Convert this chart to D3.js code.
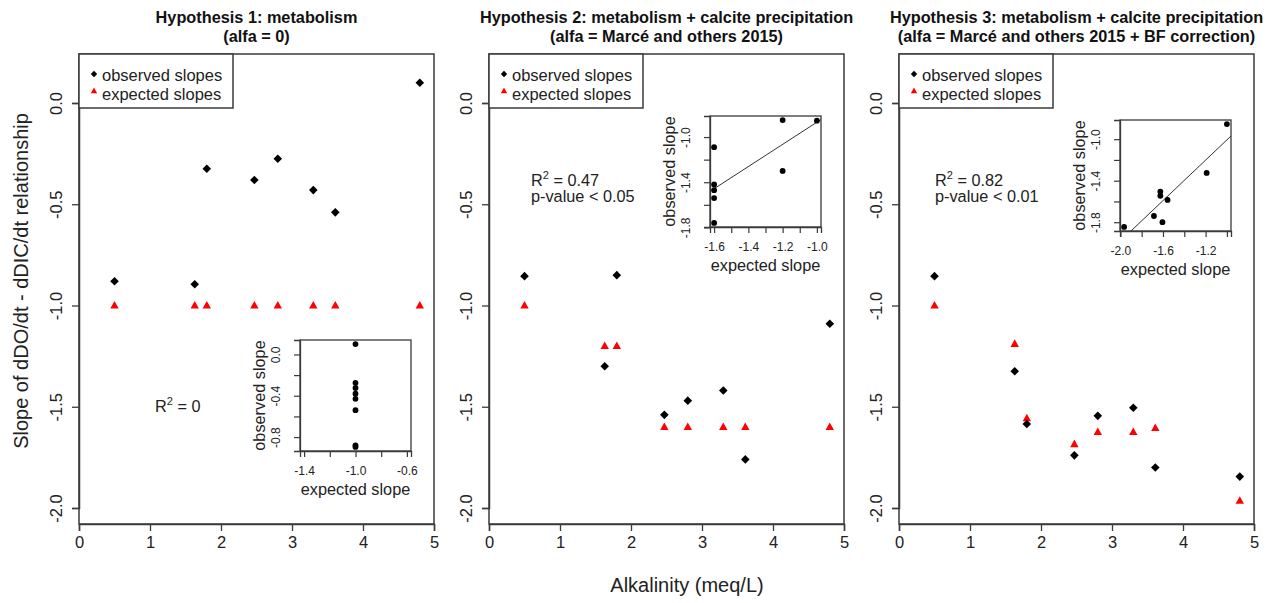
<!DOCTYPE html>
<html>
<head>
<meta charset="utf-8">
<script src="https://cdn.jsdelivr.net/npm/d3@7"></script>
<style>
  body { margin: 0; background: #fff; }
  svg { font-family: "Liberation Sans", Arial, sans-serif; }
</style>
</head>
<body>
<svg id="chart" width="1270" height="603"></svg>
<script>
// alkalinity of each lake (x), shared by the three panels
const alkalinity = [0.5, 1.63, 1.8, 2.47, 2.8, 3.3, 3.61, 4.8];

const observed1 = [-0.88, -0.895, -0.325, -0.38, -0.275, -0.43, -0.54, 0.10];
const expected1 = [-1.0, -1.0, -1.0, -1.0, -1.0, -1.0, -1.0, -1.0];
const observed2 = [-0.855, -1.30, -0.85, -1.54, -1.47, -1.42, -1.76, -1.09];
const expected2 = [-1.0, -1.2, -1.2, -1.6, -1.6, -1.6, -1.6, -1.6];
const observed3 = [-0.855, -1.325, -1.585, -1.74, -1.545, -1.505, -1.80, -1.845];
const expected3 = [-1.0, -1.19, -1.557, -1.685, -1.625, -1.625, -1.605, -1.965];

const titles = [
    ["Hypothesis 1: metabolism", "(alfa = 0)"],
    ["Hypothesis 2: metabolism + calcite precipitation", "(alfa = Marcé and others 2015)"],
    ["Hypothesis 3: metabolism + calcite precipitation", "(alfa = Marcé and others 2015 + BF correction)"]
];
const r2Values = ["0", "0.47", "0.82"];
const pValues = [null, "p-value < 0.05", "p-value < 0.01"];
const legendLabels = ["observed slopes", "expected slopes"];

const xTicks = [0, 1, 2, 3, 4, 5];
const yTicks = [0, -0.5, -1, -1.5, -2];

// inset ticks; only some of them get a label (R drops crowded ones)
const insetXTicks = [
    [-1.4, -1.2, -1.0, -0.8, -0.6],
    [-1.6, -1.5, -1.4, -1.3, -1.2, -1.1, -1.0],
    [-2.0, -1.8, -1.6, -1.4, -1.2, -1.0]
];
const insetXLabels = [
    [-1.4, -1.0, -0.6],
    [-1.6, -1.4, -1.2, -1.0],
    [-2.0, -1.6, -1.2]
];
const insetYTicks = [
    [0, -0.2, -0.4, -0.6, -0.8],
    [-1.0, -1.2, -1.4, -1.6, -1.8],
    [-1.0, -1.2, -1.4, -1.6, -1.8]
];
const insetYLabels = [
    [0, -0.4, -0.8],
    [-1.0, -1.4, -1.8],
    [-1.0, -1.4, -1.8]
];

const panels = [
    { obs: observed1, exp: expected1, fit: false },
    { obs: observed2, exp: expected2, fit: true },
    { obs: observed3, exp: expected3, fit: true }
];

const svg = d3.select("#chart");
const ink = "#222";
const boxColor = "#3a3a3a";
const fmt = v => (Math.abs(v) < 1e-9 ? 0 : v).toFixed(1);

const boxLefts = [79, 489, 899];
const boxW = 355, boxTop = 54, boxBottom = 524;

const diamond = s => `M0,${-s}L${s},0L0,${s}L${-s},0Z`;
const triangle = s => `M0,${-s * 1.1}L${s},${s * 0.7}L${-s},${s * 0.7}Z`;

// R style range: 4% padding, zero width range widened by 40%
function rRange(vals) {
    let [a, b] = d3.extent(vals);
    if (a === b) { const d = 0.4 * Math.abs(a); a -= d; b += d; }
    const pad = (b - a) * 0.04;
    return [a - pad, b + pad];
}

panels.forEach((p, i) => {
    const left = boxLefts[i];
    const g = svg.append("g");

    const x = d3.scaleLinear().domain([0, 5]).range([left, left + boxW]);
    const y = d3.scaleLinear().domain([0, -2]).range([103, 508]);

    // title
    titles[i].forEach((t, k) => {
        g.append("text")
            .attr("x", left + boxW / 2)
            .attr("y", 23 + k * 19)
            .attr("text-anchor", "middle")
            .attr("font-weight", "bold")
            .attr("font-size", 16.3)
            .attr("fill", "#111")
            .text(t);
    });

    // box
    g.append("rect")
        .attr("x", left).attr("y", boxTop)
        .attr("width", boxW).attr("height", boxBottom - boxTop)
        .attr("fill", "none").attr("stroke", boxColor).attr("stroke-width", 1.5);

    // x axis
    const xAxis = g.append("g").attr("transform", `translate(0,${boxBottom})`)
        .call(d3.axisBottom(x).tickValues(xTicks).tickSize(7).tickPadding(5).tickFormat(d3.format("d")));
    xAxis.select(".domain").attr("stroke", boxColor).attr("stroke-width", 1.5);
    xAxis.selectAll(".tick line").attr("stroke", boxColor).attr("stroke-width", 1.3);
    xAxis.selectAll(".tick text").attr("font-size", 16.5).attr("fill", ink)
        .attr("font-family", "Liberation Sans, Arial, sans-serif");

    // y axis with rotated labels
    const yAxis = g.append("g").attr("transform", `translate(${left},0)`)
        .call(d3.axisLeft(y).tickValues(yTicks).tickSize(7).tickFormat(fmt));
    yAxis.select(".domain").attr("stroke", boxColor).attr("stroke-width", 1.5);
    yAxis.selectAll(".tick line").attr("stroke", boxColor).attr("stroke-width", 1.3);
    yAxis.selectAll(".tick text")
        .attr("font-size", 16.5).attr("fill", ink)
        .attr("font-family", "Liberation Sans, Arial, sans-serif")
        .attr("x", null).attr("dy", null)
        .attr("text-anchor", "middle")
        .attr("transform", "translate(-17,0) rotate(-90)");

    // expected (red triangles) then observed (black diamonds)
    g.selectAll(".exp").data(alkalinity).enter().append("path")
        .attr("d", triangle(4.2))
        .attr("transform", (d, j) => `translate(${x(d)},${y(p.exp[j])})`)
        .attr("fill", "#ff0000");
    g.selectAll(".obs").data(alkalinity).enter().append("path")
        .attr("d", diamond(4.3))
        .attr("transform", (d, j) => `translate(${x(d)},${y(p.obs[j])})`)
        .attr("fill", "#000");

    // legend
    const lg = g.append("g").attr("transform", `translate(${left},${boxTop})`);
    lg.append("rect").attr("width", 154).attr("height", 54)
        .attr("fill", "#fff").attr("stroke", boxColor).attr("stroke-width", 1.5);
    lg.append("path").attr("d", diamond(3.2)).attr("transform", "translate(15,20)").attr("fill", "#000");
    lg.append("path").attr("d", triangle(3.2)).attr("transform", "translate(15,37)").attr("fill", "#ff0000");
    legendLabels.forEach((t, k) => {
        lg.append("text").attr("x", 23).attr("y", 26.5 + k * 19.5)
            .attr("font-size", 16.5).attr("fill", ink).text(t);
    });

    // R^2 and p-value annotation
    const ax = i === 0 ? left + 76 : left + 42 - (i === 2 ? 6 : 0);
    const ay = i === 0 ? 412 : 186;
    const rt = g.append("text").attr("x", ax).attr("y", ay).attr("font-size", 16.3).attr("fill", ink);
    rt.append("tspan").text("R");
    rt.append("tspan").attr("font-size", 11).attr("dy", -7).text("2");
    rt.append("tspan").attr("dy", 7).text(" = " + r2Values[i]);
    if (pValues[i]) {
        g.append("text").attr("x", ax).attr("y", ay + 16)
            .attr("font-size", 16.3).attr("fill", ink).text(pValues[i]);
    }

    // inset: observed vs expected slope
    const iLeft = left + 221, iTop = i === 0 ? 340 : (i === 1 ? 116 : 120), iSize = 111;
    const ix = d3.scaleLinear().domain(rRange(p.exp)).range([iLeft, iLeft + iSize]);
    const iy = d3.scaleLinear().domain(rRange(p.obs)).range([iTop + iSize, iTop]);
    const ig = g.append("g");

    ig.append("rect").attr("x", iLeft).attr("y", iTop)
        .attr("width", iSize).attr("height", iSize)
        .attr("fill", "#fff").attr("stroke", boxColor).attr("stroke-width", 1.3);

    const ixAxis = ig.append("g").attr("transform", `translate(0,${iTop + iSize})`)
        .call(d3.axisBottom(ix).tickValues(insetXTicks[i]).tickSize(6).tickPadding(9)
            .tickFormat(v => insetXLabels[i].some(l => Math.abs(l - v) < 1e-9) ? fmt(v) : ""));
    const iyAxis = ig.append("g").attr("transform", `translate(${iLeft},0)`)
        .call(d3.axisLeft(iy).tickValues(insetYTicks[i]).tickSize(6)
            .tickFormat(v => insetYLabels[i].some(l => Math.abs(l - v) < 1e-9) ? fmt(v) : ""));
    [ixAxis, iyAxis].forEach(a => {
        a.select(".domain").attr("stroke", boxColor).attr("stroke-width", 1.3);
        a.selectAll(".tick line").attr("stroke", boxColor).attr("stroke-width", 1.2);
        a.selectAll(".tick text").attr("font-size", 12).attr("fill", ink)
            .attr("font-family", "Liberation Sans, Arial, sans-serif");
    });
    iyAxis.selectAll(".tick text")
        .attr("x", null).attr("dy", null)
        .attr("text-anchor", "middle")
        .attr("transform", "translate(-20,0) rotate(-90)");

    ig.append("text").attr("x", iLeft + iSize / 2).attr("y", iTop + iSize + 44)
        .attr("text-anchor", "middle").attr("font-size", 16.3).attr("fill", ink)
        .text("expected slope");
    ig.append("text")
        .attr("transform", `translate(${iLeft - 35},${iTop + iSize / 2}) rotate(-90)`)
        .attr("text-anchor", "middle").attr("font-size", 16.3).attr("fill", ink)
        .text("observed slope");

    if (p.fit) {
        const mx = d3.mean(p.exp), my = d3.mean(p.obs);
        const sxy = d3.sum(p.exp, (v, j) => (v - mx) * (p.obs[j] - my));
        const sxx = d3.sum(p.exp, v => (v - mx) ** 2);
        const b = sxy / sxx, a = my - b * mx;
        const clipId = "clip" + i;
        ig.append("clipPath").attr("id", clipId).append("rect")
            .attr("x", iLeft).attr("y", iTop).attr("width", iSize).attr("height", iSize);
        const [x0, x1] = ix.domain();
        ig.append("line")
            .attr("clip-path", `url(#${clipId})`)
            .attr("x1", ix(x0)).attr("y1", iy(a + b * x0))
            .attr("x2", ix(x1)).attr("y2", iy(a + b * x1))
            .attr("stroke", "#333").attr("stroke-width", 1);
    }

    ig.selectAll(".ipt").data(p.exp).enter().append("circle")
        .attr("cx", d => ix(d))
        .attr("cy", (d, j) => iy(p.obs[j]))
        .attr("r", 2.9)
        .attr("fill", "#000");
});

// shared axis titles
svg.append("text")
    .attr("x", 687).attr("y", 592)
    .attr("text-anchor", "middle").attr("font-size", 20).attr("fill", ink)
    .text("Alkalinity (meq/L)");
svg.append("text")
    .attr("transform", "translate(28,281) rotate(-90)")
    .attr("text-anchor", "middle").attr("font-size", 20).attr("fill", ink)
    .text("Slope of dDO/dt - dDIC/dt relationship");
</script>
</body>
</html>
